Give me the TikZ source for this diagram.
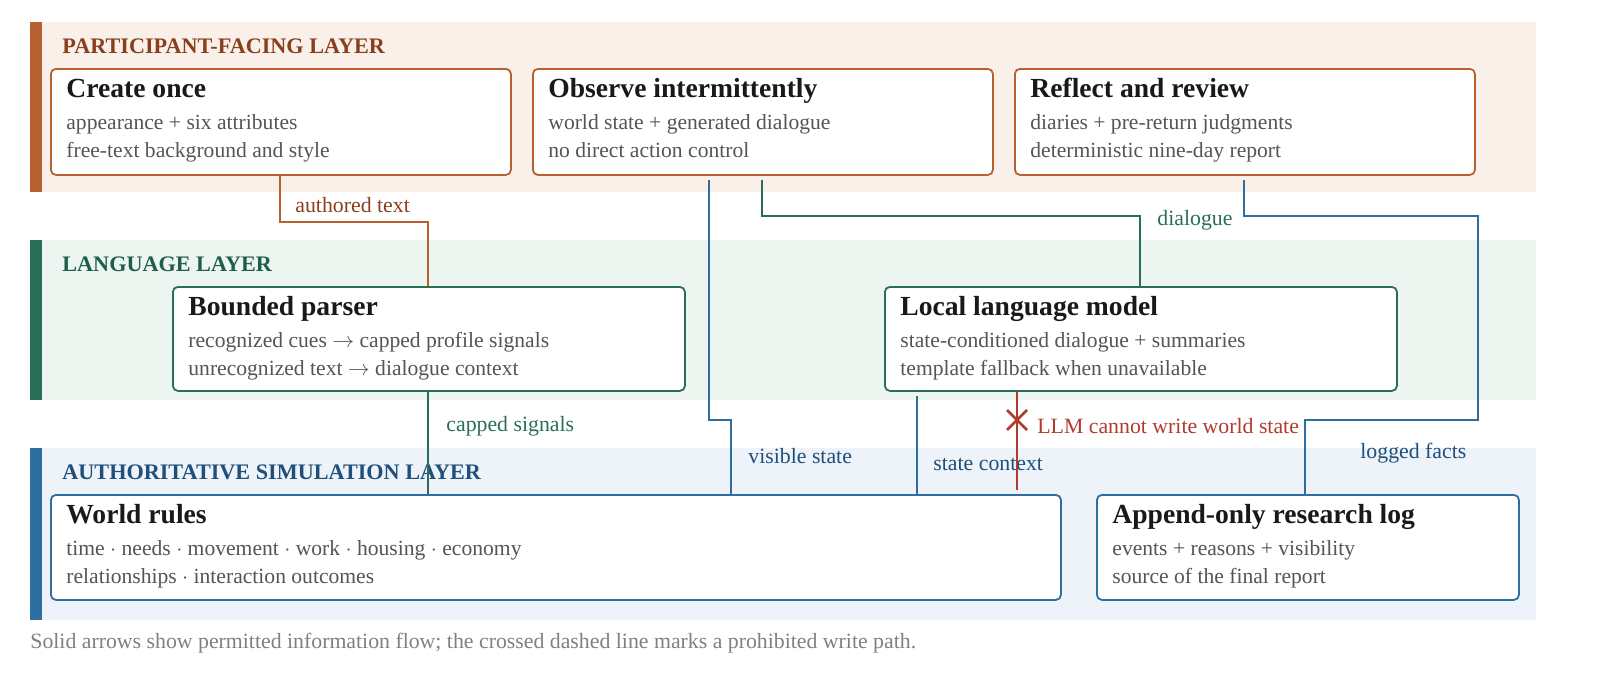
\documentclass[tikz,border=0pt]{standalone}
\usepackage{fontspec}
\setmainfont{Liberation Serif}
\usetikzlibrary{positioning}
\definecolor{partc}{HTML}{B8612E}
\definecolor{partt}{HTML}{8A3F1C}
\definecolor{partbg}{HTML}{FAF0EA}
\definecolor{langc}{HTML}{2A6E58}
\definecolor{langt}{HTML}{1F5E4C}
\definecolor{langbg}{HTML}{EDF5F1}
\definecolor{simc}{HTML}{2F6F9F}
\definecolor{simt}{HTML}{1F4F7A}
\definecolor{simbg}{HTML}{EDF3F9}
\definecolor{banc}{HTML}{B03A2E}
\definecolor{bodyt}{HTML}{555555}
\tikzset{
  box/.style={draw=#1, line width=0.9pt, rounded corners=2.5pt, fill=white, anchor=north west, inner sep=0pt},
  btitle/.style={anchor=base west, inner sep=0pt, font=\fontsize{13.8}{16}\selectfont\bfseries, text=black!90},
  bline/.style={anchor=base west, inner sep=0pt, font=\fontsize{10.8}{13}\selectfont, text=bodyt},
  layer/.style={anchor=base west, inner sep=0pt, font=\fontsize{11.1}{13}\selectfont\bfseries, text=#1},
  flow/.style={draw=#1, line width=0.9pt},
  flab/.style={anchor=base west, inner sep=0pt, font=\fontsize{10.9}{13}\selectfont, text=#1},
}
% box with title and two lines
\newcommand{\flowbox}[9]{%
  \node[box=#6, minimum width=#4*0.5pt, minimum height=#5*0.5pt] (#1) at (#2,#3) {};%
  \node[btitle] (#1-t) at ([xshift=8pt,yshift=-14.5pt]#1.north west) {#7};%
  \node[bline] (#1-a) at ([xshift=8pt,yshift=-30.5pt]#1.north west) {#8};%
  \node[bline] (#1-b) at ([xshift=8pt,yshift=-44.5pt]#1.north west) {#9};%
}
\begin{document}
\begin{tikzpicture}[x=0.5pt, y=-0.5pt]
    % layers
    \fill[partbg] (30,22) rectangle (1536,192);
    \fill[partc] (30,22) rectangle (42,192);
    \fill[langbg] (30,240) rectangle (1536,400);
    \fill[langc] (30,240) rectangle (42,400);
    \fill[simbg] (30,448) rectangle (1536,620);
    \fill[simc] (30,448) rectangle (42,620);
    \node[layer=partt] (lpart) at (62,53) {PARTICIPANT-FACING LAYER};
    \node[layer=langt] (llang) at (62,271) {LANGUAGE LAYER};
    \node[layer=simt] (lsim) at (62,479) {AUTHORITATIVE SIMULATION LAYER};

    % connectors (drawn first, boxes on top)
    \coordinate (c1) at (280,174);
    \coordinate (c2) at (428,286);
    \draw[flow=partc] (c1) |- (354,222) -| (c2);
    \node[flab=partt] (t1) at (295,212) {authored text};
    \coordinate (g1) at (428,390);
    \coordinate (g2) at (428,494);
    \draw[flow=langc] (g1) -- (g2);
    \node[flab=langc] (t2) at (446,431) {capped signals};
    \coordinate (v1) at (709,180);
    \coordinate (v2) at (731,494);
    \draw[flow=simc] (v1) |- (720,420) -| (v2);
    \node[flab=simt] (t3) at (748,463) {visible state};
    \coordinate (d1) at (762,180);
    \coordinate (d2) at (1140,286);
    \draw[flow=langc] (d1) |- (950,216) -| (d2);
    \node[flab=langc] (t4) at (1157,225) {dialogue};
    \coordinate (f1) at (1244,180);
    \coordinate (f2) at (1305,494);
    \draw[flow=simc] (f1) |- (1478,216) |- (1305,420) -- (f2);
    \node[flab=simt] (t5) at (1360,458) {logged facts};
    \coordinate (s1) at (917,396);
    \coordinate (s2) at (917,494);
    \draw[flow=simc] (s1) -- (s2);
    \node[flab=simt] (t6) at (933,470) {state context};
    \coordinate (r1) at (1017,390);
    \coordinate (r2) at (1017,490);
    \draw[flow=banc] (r1) -- (r2);
    \coordinate (x) at (1017,420);
    \draw[banc, line width=1.3pt] ([shift={(-10,-10)}]x) -- ([shift={(10,10)}]x)
      ([shift={(-10,10)}]x) -- ([shift={(10,-10)}]x);
    \node[flab=banc] (t7) at (1037,433) {LLM cannot write world state};

    % boxes
    \flowbox{create}{50}{68}{460}{106}{partc}{Create once}{appearance + six attributes}{free-text background and style}
    \flowbox{observe}{532}{68}{460}{106}{partc}{Observe intermittently}{world state + generated dialogue}{no direct action control}
    \flowbox{reflect}{1014}{68}{460}{106}{partc}{Reflect and review}{diaries + pre-return judgments}{deterministic nine-day report}
    \flowbox{parser}{172}{286}{512}{104}{langc}{Bounded parser}{recognized cues $\rightarrow$ capped profile signals}{unrecognized text $\rightarrow$ dialogue context}
    \flowbox{llm}{884}{286}{512}{104}{langc}{Local language model}{state-conditioned dialogue + summaries}{template fallback when unavailable}
    \flowbox{world}{50}{494}{1010}{105}{simc}{World rules}{time $\cdot$ needs $\cdot$ movement $\cdot$ work $\cdot$ housing $\cdot$ economy}{relationships $\cdot$ interaction outcomes}
    \flowbox{log}{1096}{494}{422}{105}{simc}{Append-only research log}{events + reasons + visibility}{source of the final report}

    \node[anchor=base west, inner sep=0pt, font=\fontsize{10.9}{13}\selectfont, text=black!50] (cap) at (30,648)
      {Solid arrows show permitted information flow; the crossed dashed line marks a prohibited write path.};
    \pgfresetboundingbox
    \path[use as bounding box] (0,0) rectangle (1600,682);
\end{tikzpicture}
\end{document}
